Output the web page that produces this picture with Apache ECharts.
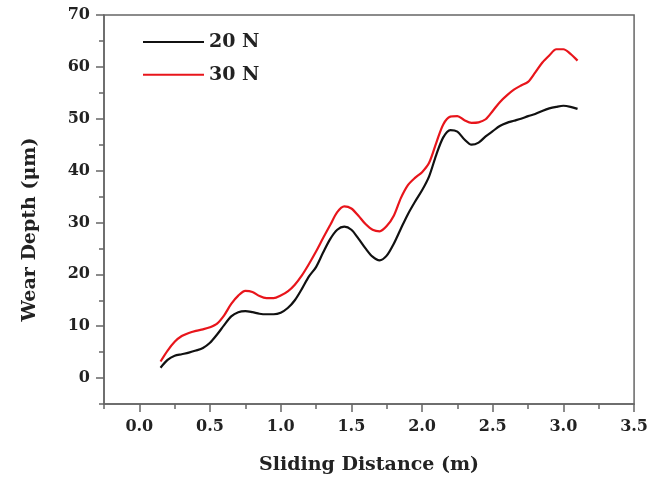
<!DOCTYPE html>
<html>
<head>
<meta charset="utf-8">
<script src="https://cdn.jsdelivr.net/npm/echarts@6/dist/echarts.min.js"></script>
<style>html,body{margin:0;padding:0;background:#fff;}#c{width:651px;height:487px;}</style>
</head>
<body>
<div id="c"></div>
<script>
const distance = [0.15,0.20,0.25,0.30,0.35,0.40,0.45,0.50,0.55,0.60,0.65,0.70,0.75,0.80,0.85,0.90,0.95,1.00,1.05,1.10,1.15,1.20,1.25,1.30,1.35,1.40,1.45,1.50,1.55,1.60,1.65,1.70,1.75,1.80,1.85,1.90,1.95,2.00,2.05,2.10,2.15,2.20,2.25,2.30,2.35,2.40,2.45,2.50,2.55,2.60,2.65,2.70,2.75,2.80,2.85,2.90,2.95,3.00,3.05,3.10];
const depth20N = [2.0,3.5,4.3,4.6,4.9,5.3,5.8,6.8,8.4,10.2,11.9,12.7,12.9,12.7,12.4,12.3,12.3,12.6,13.5,15.0,17.2,19.6,21.4,24.2,26.8,28.6,29.2,28.6,26.9,25.0,23.4,22.7,23.6,25.9,28.8,31.6,34.0,36.2,38.9,43.0,46.4,47.8,47.5,46.0,45.0,45.4,46.6,47.6,48.6,49.2,49.6,50.0,50.5,50.9,51.5,52.0,52.3,52.5,52.3,51.9];
const depth30N = [3.2,5.3,7.0,8.1,8.7,9.1,9.4,9.8,10.5,12.1,14.3,15.9,16.8,16.6,15.8,15.4,15.4,15.9,16.7,18.0,19.8,22.0,24.4,27.0,29.5,32.0,33.1,32.7,31.3,29.7,28.6,28.3,29.3,31.3,34.7,37.2,38.6,39.7,41.5,45.3,48.9,50.4,50.5,49.7,49.2,49.3,49.9,51.5,53.2,54.5,55.6,56.4,57.1,58.9,60.8,62.2,63.4,63.4,62.5,61.2];
const xMajorTicks = [0,0.5,1.0,1.5,2.0,2.5,3.0,3.5];
const xMinorTicks = [-0.25,0.25,0.75,1.25,1.75,2.25,2.75,3.25];
const yMajorTicks = [0,10,20,30,40,50,60,70];
const yMinorTicks = [-5,5,15,25,35,45,55,65];
const seriesNames = ['20 N','30 N'];

const FONT = '"DejaVu Serif", "Liberation Serif", serif';
const AX = '#666';
const TXT = '#222';
const pairs = (ys) => distance.map((d, i) => [d, ys[i]]);

const chart = echarts.init(document.getElementById('c'), null, {renderer: 'canvas'});
const baseX = {type: 'value', min: -0.25, max: 3.5, gridIndex: 0, position: 'bottom', splitLine: {show: false}};
const baseY = {type: 'value', min: -5, max: 70, gridIndex: 0, position: 'left', splitLine: {show: false}};
chart.setOption({
  animation: false,
  backgroundColor: '#fff',
  grid: {left: 104, right: 15, top: 15, bottom: 83, show: true, borderColor: AX, borderWidth: 1.5, backgroundColor: 'transparent'},
  legend: {
    data: seriesNames,
    orient: 'vertical',
    left: 138, top: 27,
    icon: 'rect',
    itemWidth: 61, itemHeight: 2, itemGap: 12.7,
    textStyle: {fontFamily: FONT, fontWeight: 'bold', fontSize: 19, color: TXT, lineHeight: 20}
  },
  xAxis: [
    Object.assign({}, baseX, {
      name: 'Sliding Distance (m)', nameLocation: 'middle', nameGap: 52,
      nameTextStyle: {fontFamily: FONT, fontWeight: 'bold', fontSize: 19, color: TXT},
      axisLine: {show: true, onZero: false, lineStyle: {color: AX, width: 1.5}},
      axisTick: {show: true, customValues: xMajorTicks, length: 8, inside: false, lineStyle: {color: AX, width: 1.5}},
      axisLabel: {show: true, customValues: xMajorTicks, margin: 15, formatter: v => v.toFixed(1), fontFamily: FONT, fontWeight: 'bold', fontSize: 16, color: TXT}
    }),
    Object.assign({}, baseX, {
      axisLine: {show: false, onZero: false},
      axisTick: {show: true, customValues: xMinorTicks, length: 5, inside: false, lineStyle: {color: AX, width: 1.5}},
      axisLabel: {show: false}
    })
  ],
  yAxis: [
    Object.assign({}, baseY, {
      name: 'Wear Depth (μm)', nameLocation: 'middle', nameGap: 64,
      nameTextStyle: {fontFamily: FONT, fontWeight: 'bold', fontSize: 19, color: TXT, padding: [0, 40, 0, 0]},
      axisLine: {show: true, onZero: false, lineStyle: {color: AX, width: 1.5}},
      axisTick: {show: true, customValues: yMajorTicks, length: 8, inside: false, lineStyle: {color: AX, width: 1.5}},
      axisLabel: {show: true, customValues: yMajorTicks, margin: 14, fontFamily: FONT, fontWeight: 'bold', fontSize: 16, color: TXT}
    }),
    Object.assign({}, baseY, {
      axisLine: {show: false, onZero: false},
      axisTick: {show: true, customValues: yMinorTicks, length: 5, inside: false, lineStyle: {color: AX, width: 1.5}},
      axisLabel: {show: false}
    })
  ],
  series: [
    {name: seriesNames[0], type: 'line', data: pairs(depth20N), smooth: 0.3, showSymbol: false, symbol: 'none',
     lineStyle: {color: '#111', width: 2.2}, itemStyle: {color: '#111'}},
    {name: seriesNames[1], type: 'line', data: pairs(depth30N), smooth: 0.3, showSymbol: false, symbol: 'none',
     lineStyle: {color: '#e8151b', width: 2.2}, itemStyle: {color: '#e8151b'}}
  ]
});
</script>
</body>
</html>
